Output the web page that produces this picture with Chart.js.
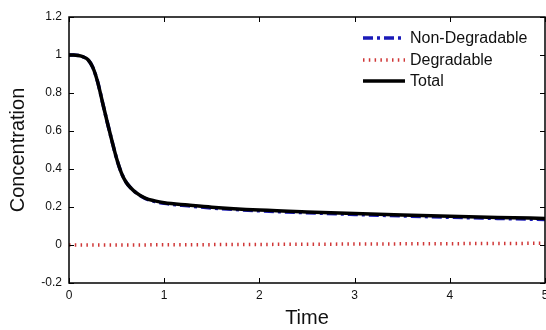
<!DOCTYPE html>
<html>
<head>
<meta charset="utf-8">
<script src="https://cdn.jsdelivr.net/npm/chart.js@4.4.1/dist/chart.umd.min.js"></script>
<style>
html,body{margin:0;padding:0;background:#fff;}
#wrap{width:546px;height:330px;}
</style>
</head>
<body>
<div id="wrap"><canvas id="c" width="546" height="330"></canvas></div>
<script>
// ---- data ----
const time = [0, 0.05, 0.1, 0.15, 0.2, 0.25, 0.3, 0.35, 0.4, 0.45, 0.5, 0.55, 0.6, 0.65, 0.7, 0.8, 0.9, 1, 1.25, 1.5, 2, 2.5, 3, 3.5, 4, 4.5, 5];
const total = [1, 1, 0.997, 0.99, 0.975, 0.935, 0.86, 0.755, 0.65, 0.55, 0.455, 0.38, 0.33, 0.3, 0.277, 0.247, 0.232, 0.222, 0.21, 0.199, 0.184, 0.174, 0.166, 0.158, 0.151, 0.145, 0.14];
const nonDegradable = [1, 1, 0.997, 0.99, 0.975, 0.935, 0.86, 0.755, 0.65, 0.55, 0.455, 0.38, 0.33, 0.3, 0.277, 0.245, 0.229, 0.219, 0.206, 0.195, 0.18, 0.17, 0.161, 0.153, 0.146, 0.14, 0.134];
const degradable = [0, 0, 0, 0, 0, 0, 0, 0, 0, 0, 0, 0, 0, 0, 0, 0.0005, 0.001, 0.001, 0.0015, 0.002, 0.003, 0.004, 0.005, 0.006, 0.007, 0.008, 0.009];
const seriesNames = ['Non-Degradable', 'Degradable', 'Total'];
const xTickValues = [0, 1, 2, 3, 4, 5];
const xTickLabels = ['0', '1', '2', '3', '4', '5'];
const yTickValues = [-0.2, 0, 0.2, 0.4, 0.6, 0.8, 1, 1.2];
const yTickLabels = ['-0.2', '0', '0.2', '0.4', '0.6', '0.8', '1', '1.2'];
const xTitle = 'Time';
const yTitle = 'Concentration';

const toPts = arr => time.map((t, i) => ({x: t, y: arr[i]}));

const FONT = '"Liberation Sans", Arial, sans-serif';

const frameAndLegend = {
  id: 'frameAndLegend',
  afterDatasetsDraw(chart) {
    const {ctx, chartArea: a, scales} = chart;
    ctx.save();
    ctx.strokeStyle = '#000';
    ctx.lineWidth = 1.5;
    ctx.strokeRect(a.left, a.top, a.right - a.left, a.bottom - a.top);
    const L = 5;
    ctx.lineWidth = 1;
    ctx.beginPath();
    xTickValues.forEach(v => {
      const x = Math.round(scales.x.getPixelForValue(v)) + 0.5;
      ctx.moveTo(x, a.bottom); ctx.lineTo(x, a.bottom - L);
      ctx.moveTo(x, a.top); ctx.lineTo(x, a.top + L);
    });
    yTickValues.forEach(v => {
      const y = Math.round(scales.y.getPixelForValue(v)) + 0.5;
      ctx.moveTo(a.left, y); ctx.lineTo(a.left + L, y);
      ctx.moveTo(a.right, y); ctx.lineTo(a.right - L, y);
    });
    ctx.stroke();
    const x0 = 363, x1 = 405, tx = 410;
    const rows = [38, 60, 81];
    chart.data.datasets.forEach((ds, i) => {
      const y = rows[i];
      ctx.strokeStyle = ds.borderColor;
      ctx.lineWidth = ds.borderWidth;
      ctx.setLineDash(ds.borderDash || []);
      ctx.beginPath();
      ctx.moveTo(x0, y); ctx.lineTo(x1, y);
      ctx.stroke();
      ctx.setLineDash([]);
      ctx.fillStyle = '#111';
      ctx.font = '16px ' + FONT;
      ctx.textBaseline = 'middle';
      ctx.textAlign = 'left';
      ctx.fillText(ds.label, tx, y + 1);
    });
    ctx.restore();
  }
};

new Chart(document.getElementById('c'), {
  type: 'line',
  data: {
    datasets: [
      {label: seriesNames[0], data: toPts(nonDegradable), borderColor: '#1a1ab8', borderWidth: 3.5, borderDash: [10, 4, 3, 4], pointRadius: 0, cubicInterpolationMode: 'monotone', order: 2},
      {label: seriesNames[1], data: toPts(degradable), borderColor: '#d03838', borderWidth: 3.5, borderDash: [1.5, 4.3], pointRadius: 0, order: 1},
      {label: seriesNames[2], data: toPts(total), borderColor: '#000000', borderWidth: 3.5, pointRadius: 0, cubicInterpolationMode: 'monotone', order: 0}
    ]
  },
  options: {
    responsive: false,
    animation: false,
    devicePixelRatio: 1,
    layout: {padding: {top: 17, right: 1, left: 0, bottom: 0}},
    plugins: {legend: {display: false}, tooltip: {enabled: false}},
    scales: {
      x: {
        type: 'linear', min: 0, max: 5,
        afterBuildTicks: s => { s.ticks = xTickValues.map(v => ({value: v})); },
        afterFit: s => { s.height = 47; s.paddingRight = 0; s.paddingLeft = 0; },
        grid: {display: true, drawOnChartArea: false, drawTicks: false},
        border: {display: false},
        ticks: {
          padding: 5, color: '#111', font: {family: FONT, size: 12},
          callback: v => xTickLabels[xTickValues.indexOf(v)], maxRotation: 0
        },
        title: {display: true, text: xTitle, color: '#111', font: {family: FONT, size: 20}, padding: {top: 2, bottom: 0}}
      },
      y: {
        type: 'linear', min: -0.2, max: 1.2,
        afterBuildTicks: s => { s.ticks = yTickValues.map(v => ({value: v})); },
        afterFit: s => { s.width = 69; s.paddingTop = 0; s.paddingBottom = 0; },
        grid: {display: true, drawOnChartArea: false, drawTicks: false},
        border: {display: false},
        ticks: {
          padding: 7, color: '#111', font: {family: FONT, size: 12},
          callback: v => { const i = yTickValues.findIndex(t => Math.abs(t - v) < 1e-9); return i >= 0 ? yTickLabels[i] : ''; }
        },
        title: {display: true, text: yTitle, color: '#111', font: {family: FONT, size: 20}, padding: {top: 6, bottom: 0}}
      }
    }
  },
  plugins: [frameAndLegend]
});
</script>
</body>
</html>
